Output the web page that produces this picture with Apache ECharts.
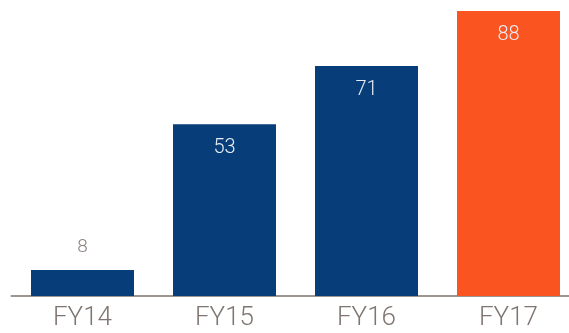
<!DOCTYPE html>
<html>
<head>
<meta charset="utf-8">
<script src="https://cdn.jsdelivr.net/npm/echarts@6/dist/echarts.min.js"></script>
<style>
html,body{margin:0;padding:0;background:#fff;}
#chart{width:569px;height:333px;}
</style>
</head>
<body>
<div id="chart"></div>
<script>
const categories = ['FY14', 'FY15', 'FY16', 'FY17'];
const values = [8, 53, 71, 88];

const NAVY = '#073d78';
const ORANGE = '#fa5421';
const FONT = 'Roboto, Liberation Sans, Arial, sans-serif';
const highlightIndex = categories.length - 1;

const seriesData = values.map((v, i) => {
  const inside = v > 20;
  return {
    value: v,
    itemStyle: { color: i === highlightIndex ? ORANGE : NAVY },
    label: inside
      ? { position: 'insideTop', distance: 14, color: '#e6edf5', fontSize: 20 }
      : { position: 'top', distance: 13, color: '#8a807a', fontSize: 19 }
  };
});

const chart = echarts.init(document.getElementById('chart'), null, { renderer: 'canvas' });
chart.setOption({
  animation: false,
  backgroundColor: '#ffffff',
  grid: {
    left: 11.5, right: -10.5, top: 11, bottom: 37,
    containLabel: false,
    outerBoundsMode: 'none'
  },
  xAxis: {
    type: 'category',
    data: categories,
    axisLine: { show: true, lineStyle: { color: '#9d9590', width: 2 } },
    axisTick: { show: false },
    axisLabel: {
      color: '#7f7570',
      fontSize: 26,
      fontWeight: 300,
      fontFamily: FONT,
      margin: 9
    }
  },
  yAxis: {
    type: 'value',
    min: 0,
    max: 88,
    show: false,
    splitLine: { show: false }
  },
  series: [{
    type: 'bar',
    data: seriesData,
    barWidth: 103,
    label: {
      show: true,
      fontWeight: 300,
      fontFamily: FONT
    }
  }]
});
</script>
</body>
</html>
